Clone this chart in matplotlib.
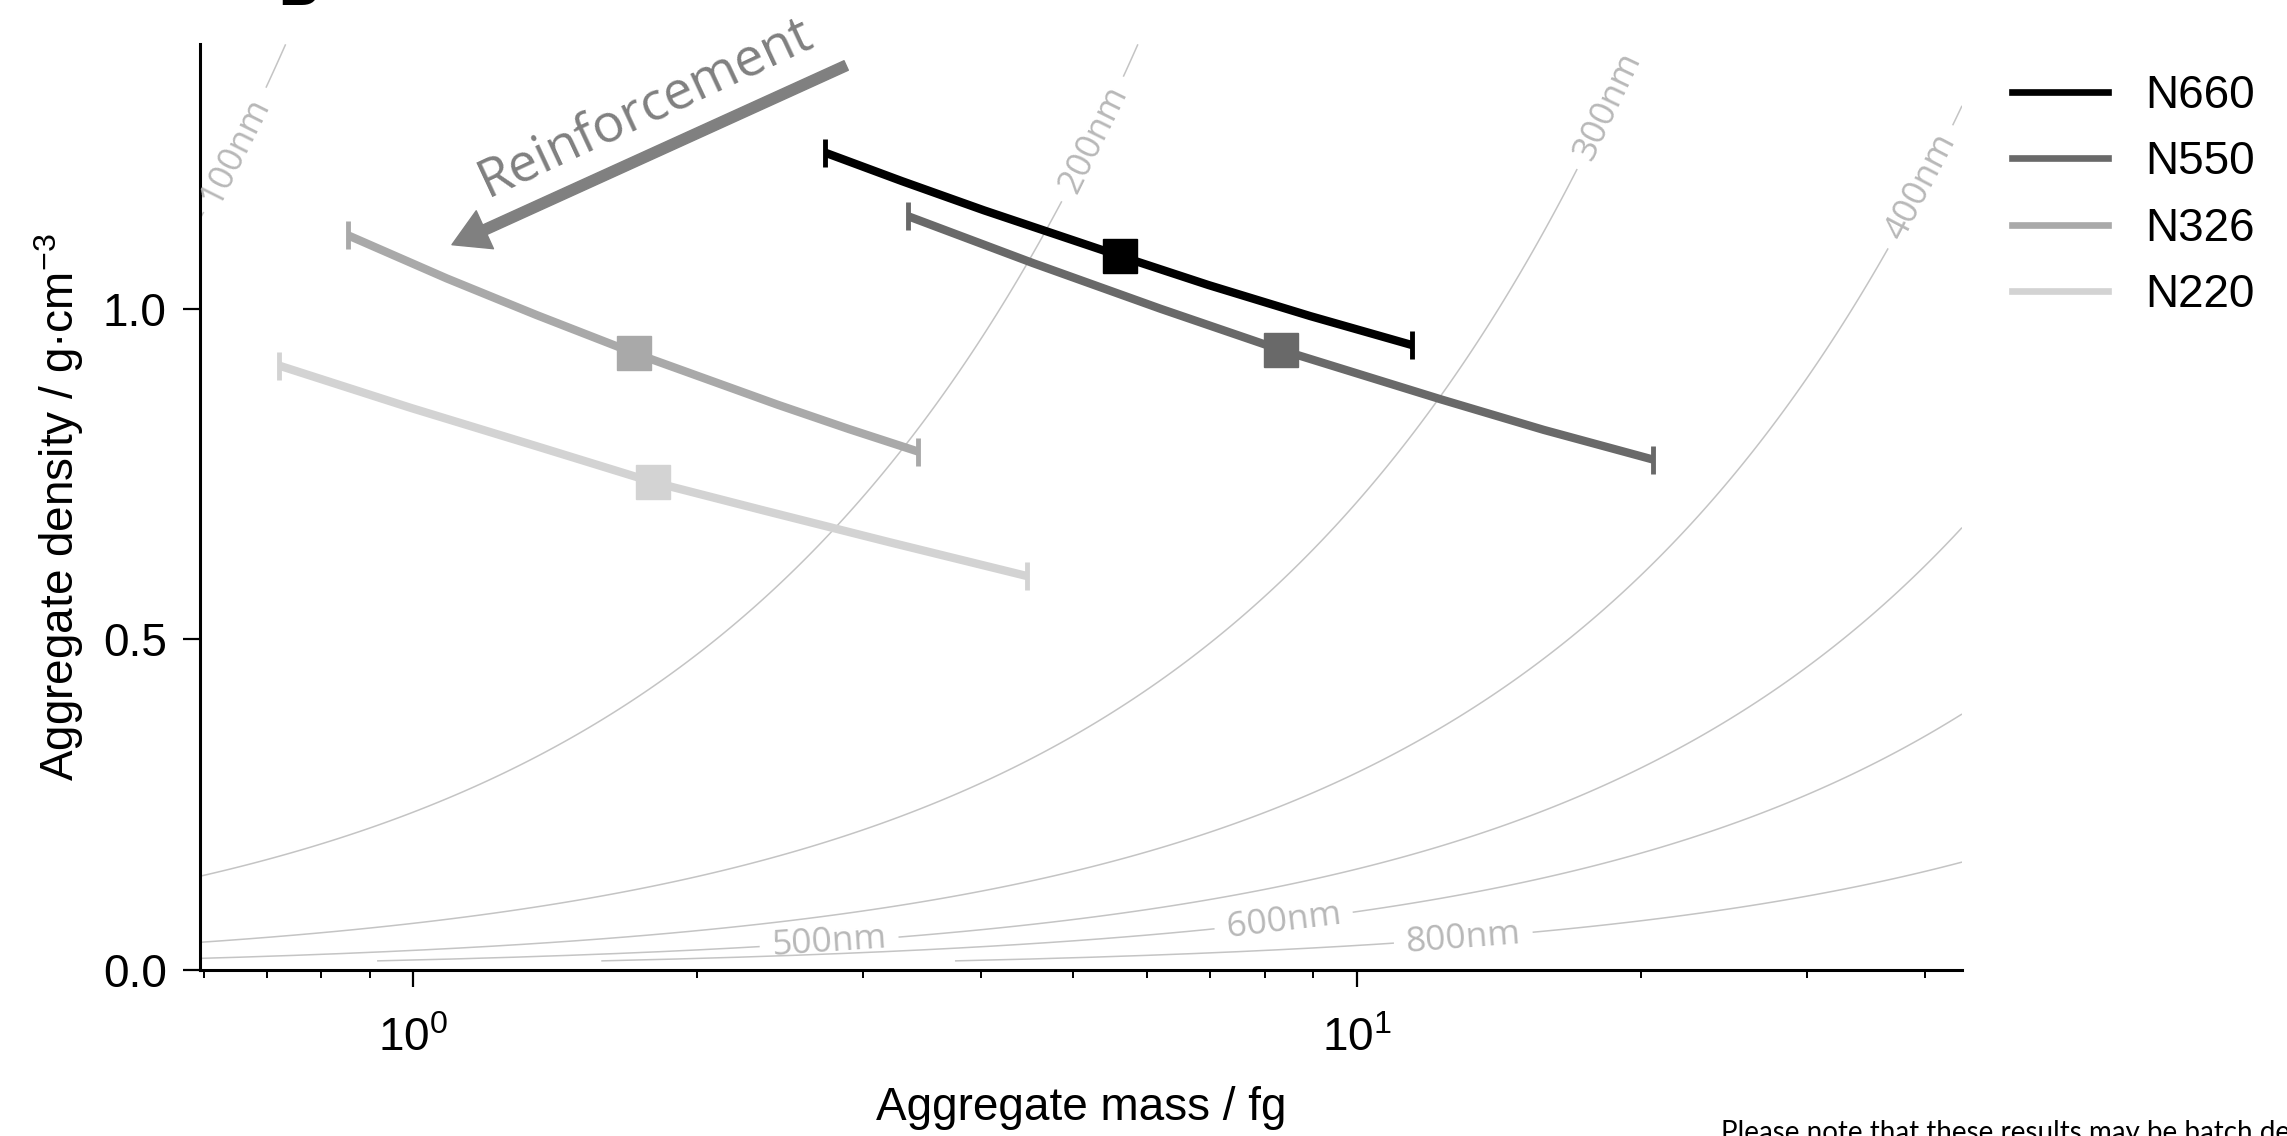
import numpy as np
import matplotlib
matplotlib.use("Agg")
import matplotlib.pyplot as plt
from matplotlib.ticker import NullFormatter
from matplotlib.lines import Line2D

plt.rcParams['font.family'] = ['Liberation Sans', 'DejaVu Sans']
plt.rcParams['mathtext.default'] = 'regular'

# Datos (masa en fg, densidad en g/cm3)
grades = ['N660', 'N550', 'N326', 'N220']
colors = ['black', '#696969', '#a9a9a9', '#d3d3d3']

n660_mass = [2.736, 3.299, 4.027, 5.611, 6.965, 8.931, 11.46]
n660_dens = [1.236, 1.193, 1.149, 1.080, 1.036, 0.989, 0.945]
n550_mass = [3.348, 4.543, 6.200, 8.308, 12.29, 15.78, 20.62]
n550_dens = [1.140, 1.069, 1.000, 0.938, 0.863, 0.817, 0.772]
n326_mass = [0.854, 1.086, 1.35, 1.717, 2.435, 2.9, 3.433]
n326_dens = [1.111, 1.046, 0.991, 0.933, 0.855, 0.818, 0.784]
n220_mass = [0.722, 0.996, 1.354, 1.797, 2.355, 3.201, 4.472]
n220_dens = [0.914, 0.850, 0.792, 0.738, 0.695, 0.647, 0.596]

mean_mass = [5.611, 8.308, 1.717, 1.797]
mean_dens = [1.080, 0.938, 0.933, 0.738]

# Diámetros de las isolíneas (nm) y posiciones de sus etiquetas
diam_levels = [100, 200, 300, 400, 500, 600, 800]
label_pos = [(0.634, 1.247), (5.23, 1.258), (17.7, 1.318), (38.9, 1.19),
             (2.76, 0.045), (8.37, 0.074), (12.97, 0.050)]

masses = [n660_mass, n550_mass, n326_mass, n220_mass]
dens = [n660_dens, n550_dens, n326_dens, n220_dens]

fig = plt.figure(figsize=(22.87, 11.36), dpi=100)
ax = fig.add_axes([0.0875, 0.146, 0.7704, 0.815])

xmin, xmax = 0.595, 43.8
ymin, ymax = 0.0, 1.4
ax.set_xscale('log')
ax.set_xlim(xmin, xmax)
ax.set_ylim(ymin, ymax)

# Isolíneas de diámetro constante: rho = m / (pi/6 d^3)
mx = np.logspace(np.log10(xmin), np.log10(xmax), 500)
ry = np.linspace(0.014, ymax, 500)
M, R = np.meshgrid(mx, ry)
D = 100 * (M / (R * np.pi / 6)) ** (1 / 3)
cs = ax.contour(M, R, D, levels=diam_levels, colors='#c4c4c4', linewidths=1.1, zorder=1)
with plt.rc_context({'font.family': 'Open Sans'}):
    ax.clabel(cs, fmt='%dnm', manual=label_pos, inline=True, inline_spacing=12,
              fontsize=25.5, colors='#b8b8b8')

for c, m, d, mm, md in zip(colors, masses, dens, mean_mass, mean_dens):
    ax.plot(m, d, color=c, lw=6, zorder=3, solid_capstyle='butt')
    ax.plot([m[0], m[-1]], [d[0], d[-1]], ls='none', marker='|', ms=20, mew=3.5,
            color=c, zorder=3)
    ax.plot([mm], [md], ls='none', marker='s', ms=24.5, color=c, zorder=4)

# Flecha de refuerzo
ax.annotate('', xy=(1.10, 1.097), xytext=(2.878, 1.368),
            arrowprops=dict(width=7.5, headwidth=30, headlength=26, color='#808080', shrink=0),
            zorder=2)
ax.text(1.766, 1.303, 'Reinforcement', rotation=25, rotation_mode='anchor',
        ha='center', va='center', fontsize=38, color='#808080', family='Open Sans')

ax.set_yticks([0.0, 0.5, 1.0])
ax.set_yticklabels(['0.0', '0.5', '1.0'])
ax.xaxis.set_minor_formatter(NullFormatter())

for s in ['top', 'right']:
    ax.spines[s].set_visible(False)
for s in ['left', 'bottom']:
    ax.spines[s].set_linewidth(2.2)

ax.tick_params(which='major', length=12, width=1.6, labelsize=33)
ax.tick_params(which='minor', length=6, width=1.4)
ax.tick_params(axis='x', which='major', pad=22)
ax.tick_params(axis='y', which='major', pad=12)

ax.set_xlabel('Aggregate mass / fg', fontsize=33, labelpad=18)
ax.set_ylabel('Aggregate density / g·cm$^{-3}$', fontsize=33, labelpad=12)

handles = [Line2D([], [], color=c, lw=4.8) for c in colors]
fig.legend(handles, grades, loc='upper left', bbox_to_anchor=(0.8697, 0.955),
           frameon=False, fontsize=33, handlelength=2.1, handletextpad=0.8,
           labelspacing=0.49, borderpad=0)

fig.text(0.7525, 0.014, 'Please note that these results may be batch dependent',
         fontsize=20, va='top', ha='left', family='Lato')
fig.text(0.1216, 0.9956, 'B', fontsize=40, fontweight='bold', va='baseline', ha='left')

fig.savefig('out.png', dpi=100)
